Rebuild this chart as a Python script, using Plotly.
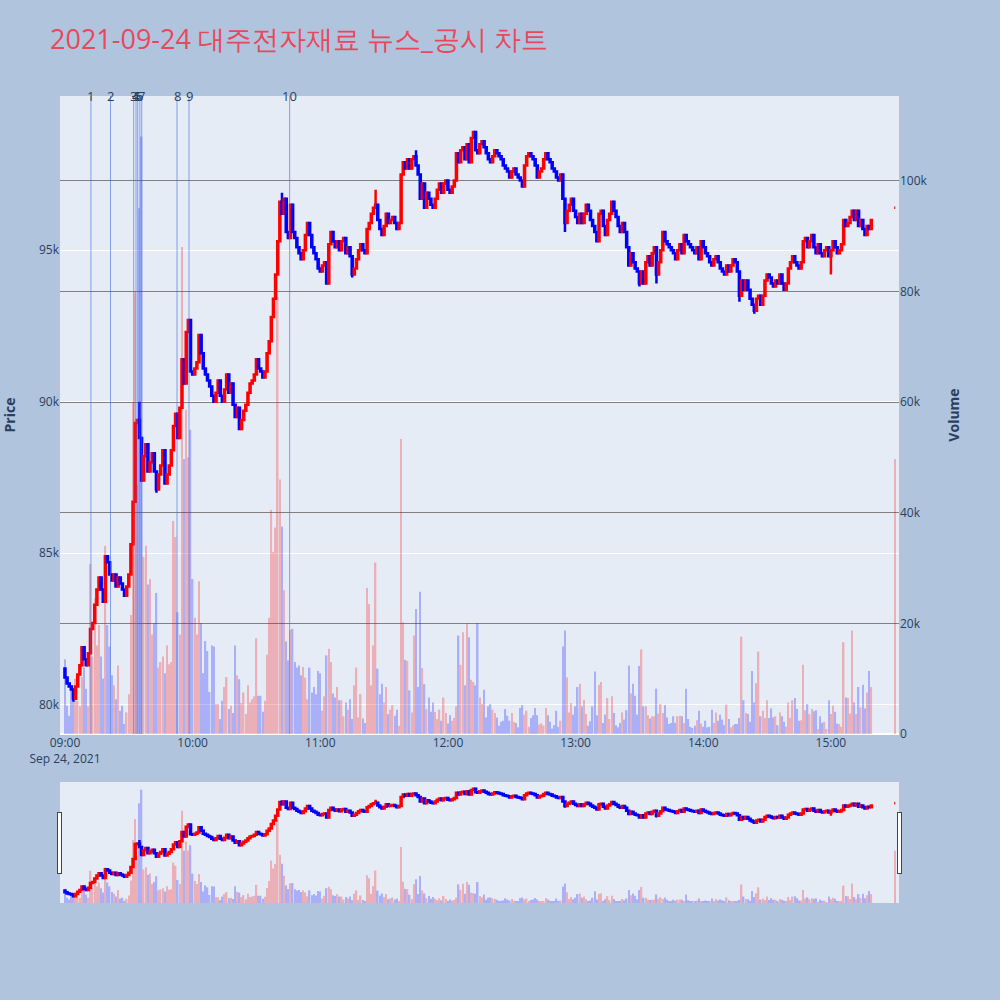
import pandas as pd
import plotly.graph_objects as go
from plotly.subplots import make_subplots

# ---------------- data ----------------
trade_date = "2021-09-24"
session_start = "09:00"
closing_auction_time = "15:30"

first_open = 81200

# 1-minute closes 09:00 .. 15:19
closes = [
    80900, 80700, 80600, 80500, 80200, 80600, 81000, 81300, 81900, 81500,
    81300, 81700, 82500, 82700, 83300, 83800, 84200, 83800, 83400, 84900,
    84700, 84300, 84100, 84300, 83900, 84200, 84000, 83800, 83600, 83900,
    84300, 85300, 86700, 89300, 89400, 88800, 87400, 88200, 88600, 87700,
    88000, 88300, 87700, 87100, 87600, 87900, 88400, 87300, 87600, 87900,
    88400, 89200, 89600, 88800, 89800, 91400, 90600, 92300, 92700, 91000,
    90900, 91100, 91300, 92200, 91600, 91100, 90900, 90700, 90500, 90200,
    90000, 90300, 90700, 90200, 90000, 90400, 90900, 90300, 90600, 89900,
    89500, 89800, 89100, 89400, 89700, 89900, 90300, 90600, 90700, 90900,
    91400, 91100, 91000, 90800, 91000, 91600, 92000, 92800, 93400, 94200,
    95300, 96600, 96200, 96700, 95600, 95400, 96500, 95600, 95400, 95100,
    94900, 94700, 95000, 95500, 95900, 95500, 95100, 94900, 94700, 94400,
    94300, 94500, 94600, 93900, 95200, 95600, 95300, 95100, 95300, 95000,
    95300, 95400, 94900, 95100, 94800, 94200, 94400, 94700, 95000, 95200,
    95000, 94900, 95700, 95900, 96200, 96400, 96500, 96000, 95700, 95500,
    95800, 96200, 95900, 96000, 96100, 95900, 95700, 95900, 97500, 97900,
    97700, 98000, 97700, 98000, 98100, 97800, 97500, 96700, 97200, 96400,
    96900, 96700, 96500, 96400, 96700, 97000, 97200, 96900, 97200, 97300,
    97000, 96900, 97100, 97300, 98200, 97900, 98300, 98400, 98000, 98500,
    97900, 98700, 98900, 98300, 98200, 98500, 98600, 98400, 98200, 98000,
    97900, 98100, 98300, 98200, 98100, 98000, 97800, 97700, 97600, 97400,
    97600, 97700, 97500, 97400, 97300, 97100, 97800, 98100, 98200, 98100,
    98000, 97800, 97400, 97600, 97700, 98000, 98200, 98000, 97900, 97700,
    97600, 97400, 97300, 97500, 96700, 95900, 96300, 96500, 96700, 96300,
    96100, 95900, 96200, 95900, 96200, 96500, 96300, 96000, 95800, 95600,
    95300, 96200, 96300, 95800, 95500, 96000, 96200, 96600, 96300, 96100,
    95800, 95600, 95900, 95600, 95100, 94500, 94900, 94600, 94400, 94300,
    93900, 94300, 93900, 94600, 94800, 94500, 94900, 95100, 94200, 94600,
    95000, 95600, 95300, 95200, 95100, 95000, 94900, 94700, 95000, 95200,
    94900, 95500, 95300, 95200, 95100, 95000, 94900, 95100, 94700, 95300,
    95100, 94900, 94800, 94600, 94500, 94700, 94800, 94600, 94400, 94300,
    94200, 94500, 94300, 94500, 94700, 94600, 94300, 93500, 94000, 93700,
    94000, 93700, 93400, 93200, 93000, 93400, 93500, 93200, 93500, 94000,
    94200, 94100, 93900, 93800, 94000, 93900, 94200, 93900, 93700, 93900,
    94400, 94600, 94800, 94600, 94500, 94400, 94600, 95300, 95400, 95100,
    95300, 95500, 95100, 94900, 95200, 94900, 94800, 95000, 95100, 94800,
    95000, 95300, 95100, 94900, 95000, 95200, 96000, 95800, 95900, 96100,
    96300, 96000, 96300, 95800, 96000, 95700, 95500, 95800, 95700, 96000,
]

# closing single-price auction at 15:30
auction_open = 96400
auction_close = 96400

# visible wick extremes (minute index -> price)
wick_high = {35: 90000, 102: 96900, 146: 97000, 165: 98300, 193: 98900}
wick_low = {4: 80100, 43: 87000, 135: 94100, 235: 95600, 270: 93800,
            278: 93900, 317: 93300, 324: 92900, 360: 94200}

# 1-minute volumes 09:00 .. 15:19
volumes = [
    13500, 5100, 3300, 8800, 6300, 10000, 6000, 5000, 10300, 12000,
    8200, 5000, 30700, 14000, 24500, 16000, 19700, 14000, 10000, 34000,
    19700, 15800, 10600, 8800, 6300, 12400, 4200, 5100, 1800, 3900,
    7200, 21500, 60000, 80000, 45000, 95000, 108000, 32000, 34000, 27000,
    28000, 18000, 20000, 25500, 12000, 13000, 14000, 11000, 16000, 12600,
    13000, 38500, 35600, 22000, 18000, 88000, 49700, 58600, 50000, 55000,
    28000, 21000, 18000, 27600, 20000, 11000, 16800, 15000, 7600, 16000,
    15800, 5400, 5400, 2700, 6000, 8500, 10300, 4500, 5100, 3800,
    16000, 10600, 9900, 5600, 7500, 3600, 8800, 5700, 6300, 6800,
    17300, 6900, 6900, 4000, 6000, 14300, 21000, 40500, 32900, 37300,
    79000, 46000, 37500, 26000, 16700, 13300, 18800, 19000, 13000, 12000,
    12400, 10600, 12100, 10200, 6300, 12000, 7500, 8500, 7200, 11400,
    11000, 4200, 6800, 14200, 15400, 13000, 7300, 6600, 8500, 6100,
    6100, 3200, 5700, 4400, 6300, 2700, 8800, 12000, 3000, 7200,
    2800, 2000, 26400, 23500, 8800, 16000, 31000, 11800, 7200, 9100,
    5700, 8500, 3600, 4400, 5200, 3300, 4400, 1500, 53300, 20200,
    13400, 13200, 7900, 3900, 17800, 22600, 8500, 25700, 11900, 9000,
    4500, 6600, 4000, 5700, 4000, 2700, 4400, 2400, 6600, 3800,
    1900, 3400, 2400, 2900, 5000, 17800, 12500, 18400, 8800, 20000,
    17500, 9800, 9400, 8800, 20000, 6600, 5400, 8000, 3000, 5000,
    5400, 4400, 3800, 3000, 1500, 2200, 2400, 4500, 3300, 2400,
    3800, 2200, 2000, 1200, 4700, 5200, 3500, 4200, 1300, 2900,
    3400, 4700, 3400, 1700, 1900, 1500, 4700, 3400, 2200, 1000,
    1600, 4200, 1300, 2400, 15800, 18700, 10200, 3900, 5600, 3500,
    5000, 8500, 9100, 5000, 6200, 3600, 1500, 2300, 5000, 11300,
    3400, 8900, 9400, 2000, 3500, 6500, 2700, 6800, 3800, 1600,
    1200, 2000, 3900, 2600, 4300, 12400, 7300, 9100, 6900, 3500,
    12300, 15300, 5000, 5000, 3400, 2800, 3200, 3200, 8200, 3700,
    5400, 3800, 5200, 3000, 1800, 2000, 3200, 2000, 3200, 3300,
    3200, 2000, 8200, 2700, 1300, 1100, 1500, 2500, 4200, 1900,
    1300, 2400, 1200, 1300, 4400, 2000, 3900, 2400, 3500, 2600,
    1600, 5300, 2700, 1200, 1600, 1800, 1800, 2900, 17600, 6100,
    3800, 3600, 2200, 11400, 5700, 9200, 14900, 3200, 4200, 2900,
    6100, 2900, 4600, 3000, 3200, 1600, 3900, 3200, 2200, 1300,
    5700, 2900, 6100, 6500, 4500, 2400, 2500, 12500, 4300, 5400,
    3600, 4500, 4100, 4300, 900, 3200, 2000, 2200, 900, 6100,
    3600, 5100, 4000, 1900, 1800, 1300, 16600, 6600, 6500, 3700,
    18700, 5700, 3600, 8500, 4800, 8900, 4600, 7500, 11400, 8500,
]
auction_volume = 49700

# news / disclosure times and their labels
news_labels = ["1", "2", "3", "4", "5", "6", "7", "8", "9", "10"]
news_times = ["09:12:12", "09:21:24", "09:32:18", "09:33:24", "09:34:12",
              "09:35:12", "09:36:06", "09:52:40", "09:58:18", "10:45:36"]

price_tickvals = [80000, 85000, 90000, 95000]
price_ticktext = ["80k", "85k", "90k", "95k"]

title_text = "2021-09-24 대주전자재료 뉴스_공시 차트"

# ---------------- build OHLC ----------------
start = pd.Timestamp(f"{trade_date} {session_start}")
times = [start + pd.Timedelta(minutes=i) for i in range(len(closes))]
times.append(pd.Timestamp(f"{trade_date} {closing_auction_time}"))

opens = [first_open] + closes[:-1] + [auction_open]
all_close = closes + [auction_close]
highs, lows = [], []
for i, (o, c) in enumerate(zip(opens, all_close)):
    highs.append(max(o, c, wick_high.get(i, 0)))
    lows.append(min(o, c, wick_low.get(i, 10 ** 9)))
all_vol = volumes + [auction_volume]

vol_colors = []
prev = first_open
for o, c in zip(opens, all_close):
    if c > o or (c == o and c >= prev):
        vol_colors.append("red")
    else:
        vol_colors.append("blue")
    prev = c

# ---------------- figure ----------------
fig = make_subplots(specs=[[{"secondary_y": True}]])

fig.add_trace(go.Candlestick(
    x=times, open=opens, high=highs, low=lows, close=all_close,
    increasing_line_color="red", increasing_fillcolor="red",
    decreasing_line_color="blue", decreasing_fillcolor="blue",
    increasing_line_width=2.5, decreasing_line_width=2.5,
    name="Price", showlegend=False,
), secondary_y=False)

fig.add_trace(go.Bar(
    x=times, y=all_vol, marker_color=vol_colors, opacity=0.25,
    marker_line_width=0, name="Volume", showlegend=False,
), secondary_y=True)

x_range = [f"{trade_date} 08:57:40", f"{trade_date} 15:32:00"]

for lab, t in zip(news_labels, news_times):
    ts = f"{trade_date} {t}"
    fig.add_shape(type="line", xref="x", yref="paper", x0=ts, x1=ts, y0=0, y1=1,
                  line=dict(color="royalblue", width=1), opacity=0.6, layer="above")
    fig.add_annotation(x=ts, y=1, xref="x", yref="paper", text=lab, showarrow=False,
                       yanchor="middle", xanchor="center",
                       font=dict(size=13, color="#2a3f5f"))

fig.update_layout(
    width=1000, height=1000,
    template="plotly",
    paper_bgcolor="#B0C4DE",
    plot_bgcolor="#E5ECF6",
    margin=dict(l=60, r=101, t=96, b=97),
    showlegend=False,
    bargap=0.3,
    title=dict(text=title_text, x=0.05, xanchor="left", y=0.96, yanchor="middle",
               font=dict(size=27, color="#E8485C")),
)

fig.update_xaxes(
    type="date", range=x_range, showgrid=False, domain=[0, 1],
    rangeslider=dict(visible=True, range=x_range, bgcolor="#E5ECF6", thickness=0.15),
)
fig.update_yaxes(
    title_text="<b>Price</b>", title_font_size=14, title_standoff=22,
    range=[79035, 100090],
    tickvals=price_tickvals, ticktext=price_ticktext, automargin=False,
    gridcolor="white", secondary_y=False,
)
fig.update_yaxes(
    title_text="<b>Volume</b>", title_font_size=14, title_standoff=22,
    range=[0, 115300], dtick=20000,
    showgrid=True, gridcolor="grey", automargin=False, secondary_y=True,
)

fig.write_html("out.html", config={"displayModeBar": False},
               post_script="document.body.style.margin='0';")
